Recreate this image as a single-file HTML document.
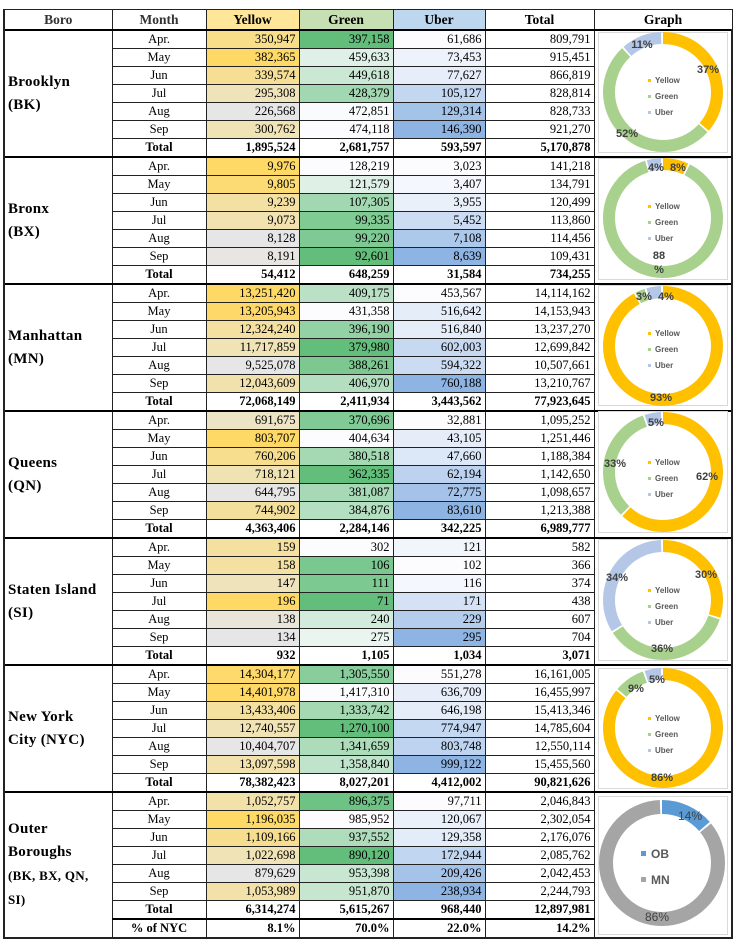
<!DOCTYPE html>
<html><head><meta charset="utf-8">
<style>
body{margin:0;width:736px;height:943px;background:#fff;position:relative;overflow:hidden;font-family:"Liberation Serif",serif;}
table{position:absolute;left:3px;top:9px;border-collapse:collapse;table-layout:fixed;width:728px;}
td,th{border:1px solid #222;padding:0 3px;font-size:12.5px;line-height:15px;height:17px;overflow:hidden;white-space:nowrap;}
th{font-size:13.5px;font-weight:bold;height:19px;text-align:center;}
td.n{text-align:right;}
td.mo{text-align:center;}
tr.t td{font-weight:bold;}
tbody{border-top:2px solid #000;}
td.b{font-weight:bold;font-size:15px;line-height:23px;vertical-align:middle;white-space:normal;border-left:2px solid #222;letter-spacing:0.3px;}
td.gr{border-right:2px solid #222;}
svg{position:absolute;left:0;top:0;}
</style></head><body>
<table>
<colgroup><col style="width:108px"><col style="width:94px"><col style="width:93px"><col style="width:94px"><col style="width:92px"><col style="width:109px"><col style="width:138px"></colgroup>
<thead><tr><th style="border-left:2px solid #222;color:#333">Boro</th><th style="color:#333">Month</th><th style="background:#ffe699">Yellow</th><th style="background:#c6e0b4">Green</th><th style="background:#bdd7ee">Uber</th><th>Total</th><th class="gr">Graph</th></tr></thead>
<tbody>
<tr class="m"><td class="b" rowspan="7">Brooklyn<br>(BK)</td><td class="mo">Apr.</td><td class="n y">350,947</td><td class="n g">397,158</td><td class="n u">61,686</td><td class="n">809,791</td><td class="gr" rowspan="7"></td></tr>
<tr class="m"><td class="mo">May</td><td class="n y">382,365</td><td class="n g">459,633</td><td class="n u">73,453</td><td class="n">915,451</td></tr>
<tr class="m"><td class="mo">Jun</td><td class="n y">339,574</td><td class="n g">449,618</td><td class="n u">77,627</td><td class="n">866,819</td></tr>
<tr class="m"><td class="mo">Jul</td><td class="n y">295,308</td><td class="n g">428,379</td><td class="n u">105,127</td><td class="n">828,814</td></tr>
<tr class="m"><td class="mo">Aug</td><td class="n y">226,568</td><td class="n g">472,851</td><td class="n u">129,314</td><td class="n">828,733</td></tr>
<tr class="m"><td class="mo">Sep</td><td class="n y">300,762</td><td class="n g">474,118</td><td class="n u">146,390</td><td class="n">921,270</td></tr>
<tr class="t"><td class="mo">Total</td><td class="n">1,895,524</td><td class="n">2,681,757</td><td class="n">593,597</td><td class="n">5,170,878</td></tr>
</tbody>
<tbody>
<tr class="m"><td class="b" rowspan="7">Bronx<br>(BX)</td><td class="mo">Apr.</td><td class="n y">9,976</td><td class="n g">128,219</td><td class="n u">3,023</td><td class="n">141,218</td><td class="gr" rowspan="7"></td></tr>
<tr class="m"><td class="mo">May</td><td class="n y">9,805</td><td class="n g">121,579</td><td class="n u">3,407</td><td class="n">134,791</td></tr>
<tr class="m"><td class="mo">Jun</td><td class="n y">9,239</td><td class="n g">107,305</td><td class="n u">3,955</td><td class="n">120,499</td></tr>
<tr class="m"><td class="mo">Jul</td><td class="n y">9,073</td><td class="n g">99,335</td><td class="n u">5,452</td><td class="n">113,860</td></tr>
<tr class="m"><td class="mo">Aug</td><td class="n y">8,128</td><td class="n g">99,220</td><td class="n u">7,108</td><td class="n">114,456</td></tr>
<tr class="m"><td class="mo">Sep</td><td class="n y">8,191</td><td class="n g">92,601</td><td class="n u">8,639</td><td class="n">109,431</td></tr>
<tr class="t"><td class="mo">Total</td><td class="n">54,412</td><td class="n">648,259</td><td class="n">31,584</td><td class="n">734,255</td></tr>
</tbody>
<tbody>
<tr class="m"><td class="b" rowspan="7">Manhattan<br>(MN)</td><td class="mo">Apr.</td><td class="n y">13,251,420</td><td class="n g">409,175</td><td class="n u">453,567</td><td class="n">14,114,162</td><td class="gr" rowspan="7"></td></tr>
<tr class="m"><td class="mo">May</td><td class="n y">13,205,943</td><td class="n g">431,358</td><td class="n u">516,642</td><td class="n">14,153,943</td></tr>
<tr class="m"><td class="mo">Jun</td><td class="n y">12,324,240</td><td class="n g">396,190</td><td class="n u">516,840</td><td class="n">13,237,270</td></tr>
<tr class="m"><td class="mo">Jul</td><td class="n y">11,717,859</td><td class="n g">379,980</td><td class="n u">602,003</td><td class="n">12,699,842</td></tr>
<tr class="m"><td class="mo">Aug</td><td class="n y">9,525,078</td><td class="n g">388,261</td><td class="n u">594,322</td><td class="n">10,507,661</td></tr>
<tr class="m"><td class="mo">Sep</td><td class="n y">12,043,609</td><td class="n g">406,970</td><td class="n u">760,188</td><td class="n">13,210,767</td></tr>
<tr class="t"><td class="mo">Total</td><td class="n">72,068,149</td><td class="n">2,411,934</td><td class="n">3,443,562</td><td class="n">77,923,645</td></tr>
</tbody>
<tbody>
<tr class="m"><td class="b" rowspan="7">Queens<br>(QN)</td><td class="mo">Apr.</td><td class="n y">691,675</td><td class="n g">370,696</td><td class="n u">32,881</td><td class="n">1,095,252</td><td class="gr" rowspan="7"></td></tr>
<tr class="m"><td class="mo">May</td><td class="n y">803,707</td><td class="n g">404,634</td><td class="n u">43,105</td><td class="n">1,251,446</td></tr>
<tr class="m"><td class="mo">Jun</td><td class="n y">760,206</td><td class="n g">380,518</td><td class="n u">47,660</td><td class="n">1,188,384</td></tr>
<tr class="m"><td class="mo">Jul</td><td class="n y">718,121</td><td class="n g">362,335</td><td class="n u">62,194</td><td class="n">1,142,650</td></tr>
<tr class="m"><td class="mo">Aug</td><td class="n y">644,795</td><td class="n g">381,087</td><td class="n u">72,775</td><td class="n">1,098,657</td></tr>
<tr class="m"><td class="mo">Sep</td><td class="n y">744,902</td><td class="n g">384,876</td><td class="n u">83,610</td><td class="n">1,213,388</td></tr>
<tr class="t"><td class="mo">Total</td><td class="n">4,363,406</td><td class="n">2,284,146</td><td class="n">342,225</td><td class="n">6,989,777</td></tr>
</tbody>
<tbody>
<tr class="m"><td class="b" rowspan="7">Staten Island<br>(SI)</td><td class="mo">Apr.</td><td class="n y">159</td><td class="n g">302</td><td class="n u">121</td><td class="n">582</td><td class="gr" rowspan="7"></td></tr>
<tr class="m"><td class="mo">May</td><td class="n y">158</td><td class="n g">106</td><td class="n u">102</td><td class="n">366</td></tr>
<tr class="m"><td class="mo">Jun</td><td class="n y">147</td><td class="n g">111</td><td class="n u">116</td><td class="n">374</td></tr>
<tr class="m"><td class="mo">Jul</td><td class="n y">196</td><td class="n g">71</td><td class="n u">171</td><td class="n">438</td></tr>
<tr class="m"><td class="mo">Aug</td><td class="n y">138</td><td class="n g">240</td><td class="n u">229</td><td class="n">607</td></tr>
<tr class="m"><td class="mo">Sep</td><td class="n y">134</td><td class="n g">275</td><td class="n u">295</td><td class="n">704</td></tr>
<tr class="t"><td class="mo">Total</td><td class="n">932</td><td class="n">1,105</td><td class="n">1,034</td><td class="n">3,071</td></tr>
</tbody>
<tbody>
<tr class="m"><td class="b" rowspan="7">New York<br>City (NYC)</td><td class="mo">Apr.</td><td class="n y">14,304,177</td><td class="n g">1,305,550</td><td class="n u">551,278</td><td class="n">16,161,005</td><td class="gr" rowspan="7"></td></tr>
<tr class="m"><td class="mo">May</td><td class="n y">14,401,978</td><td class="n g">1,417,310</td><td class="n u">636,709</td><td class="n">16,455,997</td></tr>
<tr class="m"><td class="mo">Jun</td><td class="n y">13,433,406</td><td class="n g">1,333,742</td><td class="n u">646,198</td><td class="n">15,413,346</td></tr>
<tr class="m"><td class="mo">Jul</td><td class="n y">12,740,557</td><td class="n g">1,270,100</td><td class="n u">774,947</td><td class="n">14,785,604</td></tr>
<tr class="m"><td class="mo">Aug</td><td class="n y">10,404,707</td><td class="n g">1,341,659</td><td class="n u">803,748</td><td class="n">12,550,114</td></tr>
<tr class="m"><td class="mo">Sep</td><td class="n y">13,097,598</td><td class="n g">1,358,840</td><td class="n u">999,122</td><td class="n">15,455,560</td></tr>
<tr class="t"><td class="mo">Total</td><td class="n">78,382,423</td><td class="n">8,027,201</td><td class="n">4,412,002</td><td class="n">90,821,626</td></tr>
</tbody>
<tbody>
<tr class="m"><td class="b" rowspan="8">Outer<br>Boroughs<br><span style="font-size:13px">(BK, BX, QN, SI)</span></td><td class="mo">Apr.</td><td class="n y">1,052,757</td><td class="n g">896,375</td><td class="n u">97,711</td><td class="n">2,046,843</td><td class="gr" rowspan="8"></td></tr>
<tr class="m"><td class="mo">May</td><td class="n y">1,196,035</td><td class="n g">985,952</td><td class="n u">120,067</td><td class="n">2,302,054</td></tr>
<tr class="m"><td class="mo">Jun</td><td class="n y">1,109,166</td><td class="n g">937,552</td><td class="n u">129,358</td><td class="n">2,176,076</td></tr>
<tr class="m"><td class="mo">Jul</td><td class="n y">1,022,698</td><td class="n g">890,120</td><td class="n u">172,944</td><td class="n">2,085,762</td></tr>
<tr class="m"><td class="mo">Aug</td><td class="n y">879,629</td><td class="n g">953,398</td><td class="n u">209,426</td><td class="n">2,042,453</td></tr>
<tr class="m"><td class="mo">Sep</td><td class="n y">1,053,989</td><td class="n g">951,870</td><td class="n u">238,934</td><td class="n">2,244,793</td></tr>
<tr class="t"><td class="mo">Total</td><td class="n">6,314,274</td><td class="n">5,615,267</td><td class="n">968,440</td><td class="n">12,897,981</td></tr>
<tr class="t" style="border-top:2px solid #000;border-bottom:2px solid #222"><td class="mo">% of NYC</td><td class="n">8.1%</td><td class="n">70.0%</td><td class="n">22.0%</td><td class="n">14.2%</td></tr>
</tbody>
</table>

<svg width="736" height="943" font-family="Liberation Sans, sans-serif">
<g fill="none" stroke="#d9d9d9" stroke-width="1">
<rect x="598.5" y="32.5" width="129" height="120"/>
<rect x="598.5" y="158.5" width="129" height="121"/>
<rect x="598.5" y="285.5" width="129" height="120"/>
<rect x="598.5" y="411.5" width="129" height="121"/>
<rect x="598.5" y="539.5" width="129" height="121"/>
<rect x="598.5" y="668.5" width="129" height="120"/>
<rect x="598.5" y="796.5" width="129" height="138"/>
</g>
<g fill="none" stroke-width="12">
<g transform="rotate(-90 663 92)">
<circle cx="663" cy="92" r="54" pathLength="100" stroke="#ffc000" stroke-dasharray="36.2 200" stroke-dashoffset="0"/>
<circle cx="663" cy="92" r="54" pathLength="100" stroke="#a9d18e" stroke-dasharray="51.4 200" stroke-dashoffset="-36.7"/>
<circle cx="663" cy="92" r="54" pathLength="100" stroke="#b4c7e7" stroke-dasharray="10.9 200" stroke-dashoffset="-88.6"/>
</g>
<g transform="rotate(-90 663 218)">
<circle cx="663" cy="218" r="54" pathLength="100" stroke="#ffc000" stroke-dasharray="6.9 200" stroke-dashoffset="0"/>
<circle cx="663" cy="218" r="54" pathLength="100" stroke="#a9d18e" stroke-dasharray="87.8 200" stroke-dashoffset="-7.4"/>
<circle cx="663" cy="218" r="54" pathLength="100" stroke="#b4c7e7" stroke-dasharray="3.8 200" stroke-dashoffset="-95.7"/>
</g>
<g transform="rotate(-90 663 346)">
<circle cx="663" cy="346" r="54" pathLength="100" stroke="#ffc000" stroke-dasharray="92 200" stroke-dashoffset="0"/>
<circle cx="663" cy="346" r="54" pathLength="100" stroke="#a9d18e" stroke-dasharray="2.6 200" stroke-dashoffset="-92.5"/>
<circle cx="663" cy="346" r="54" pathLength="100" stroke="#b4c7e7" stroke-dasharray="3.9 200" stroke-dashoffset="-95.6"/>
</g>
<g transform="rotate(-90 663 472)">
<circle cx="663" cy="472" r="54" pathLength="100" stroke="#ffc000" stroke-dasharray="61.9 200" stroke-dashoffset="0"/>
<circle cx="663" cy="472" r="54" pathLength="100" stroke="#a9d18e" stroke-dasharray="32.2 200" stroke-dashoffset="-62.4"/>
<circle cx="663" cy="472" r="54" pathLength="100" stroke="#b4c7e7" stroke-dasharray="4.4 200" stroke-dashoffset="-95.1"/>
</g>
<g transform="rotate(-90 663 600)">
<circle cx="663" cy="600" r="54" pathLength="100" stroke="#ffc000" stroke-dasharray="29.8 200" stroke-dashoffset="0"/>
<circle cx="663" cy="600" r="54" pathLength="100" stroke="#a9d18e" stroke-dasharray="35.5 200" stroke-dashoffset="-30.3"/>
<circle cx="663" cy="600" r="54" pathLength="100" stroke="#b4c7e7" stroke-dasharray="33.2 200" stroke-dashoffset="-66.3"/>
</g>
<g transform="rotate(-90 663 728)">
<circle cx="663" cy="728" r="54" pathLength="100" stroke="#ffc000" stroke-dasharray="85.8 200" stroke-dashoffset="0"/>
<circle cx="663" cy="728" r="54" pathLength="100" stroke="#a9d18e" stroke-dasharray="8.3 200" stroke-dashoffset="-86.3"/>
<circle cx="663" cy="728" r="54" pathLength="100" stroke="#b4c7e7" stroke-dasharray="4.4 200" stroke-dashoffset="-95.1"/>
</g>
<g transform="rotate(-90 662 863)" stroke-width="14">
<circle cx="662" cy="863" r="56" pathLength="100" stroke="#5b9bd5" stroke-dasharray="13.7 200" stroke-dashoffset="0"/>
<circle cx="662" cy="863" r="56" pathLength="100" stroke="#a5a5a5" stroke-dasharray="85.3 200" stroke-dashoffset="-14.2"/>
</g>
</g>
<g font-size="8" fill="#595959" font-weight="bold">
<g><rect x="648" y="79" width="3" height="3" fill="#ffc000"/><text x="655" y="83">Yellow</text><rect x="648" y="95" width="3" height="3" fill="#a9d18e"/><text x="655" y="99">Green</text><rect x="648" y="111" width="3" height="3" fill="#b4c7e7"/><text x="655" y="115">Uber</text></g>
<g transform="translate(0,126)"><rect x="648" y="79" width="3" height="3" fill="#ffc000"/><text x="655" y="83">Yellow</text><rect x="648" y="95" width="3" height="3" fill="#a9d18e"/><text x="655" y="99">Green</text><rect x="648" y="111" width="3" height="3" fill="#b4c7e7"/><text x="655" y="115">Uber</text></g>
<g transform="translate(0,253)"><rect x="648" y="79" width="3" height="3" fill="#ffc000"/><text x="655" y="83">Yellow</text><rect x="648" y="95" width="3" height="3" fill="#a9d18e"/><text x="655" y="99">Green</text><rect x="648" y="111" width="3" height="3" fill="#b4c7e7"/><text x="655" y="115">Uber</text></g>
<g transform="translate(0,382)"><rect x="648" y="79" width="3" height="3" fill="#ffc000"/><text x="655" y="83">Yellow</text><rect x="648" y="95" width="3" height="3" fill="#a9d18e"/><text x="655" y="99">Green</text><rect x="648" y="111" width="3" height="3" fill="#b4c7e7"/><text x="655" y="115">Uber</text></g>
<g transform="translate(0,510)"><rect x="648" y="79" width="3" height="3" fill="#ffc000"/><text x="655" y="83">Yellow</text><rect x="648" y="95" width="3" height="3" fill="#a9d18e"/><text x="655" y="99">Green</text><rect x="648" y="111" width="3" height="3" fill="#b4c7e7"/><text x="655" y="115">Uber</text></g>
<g transform="translate(0,638)"><rect x="648" y="79" width="3" height="3" fill="#ffc000"/><text x="655" y="83">Yellow</text><rect x="648" y="95" width="3" height="3" fill="#a9d18e"/><text x="655" y="99">Green</text><rect x="648" y="111" width="3" height="3" fill="#b4c7e7"/><text x="655" y="115">Uber</text></g>
</g>
<g font-size="12" fill="#595959" font-weight="bold">
<rect x="641" y="851" width="5" height="5" fill="#5b9bd5"/><text x="651" y="858">OB</text>
<rect x="641" y="877" width="5" height="5" fill="#a5a5a5"/><text x="651" y="884">MN</text>
</g>
<g font-size="11" fill="#404040" font-weight="bold" text-anchor="middle">
<text x="642" y="48">11%</text><text x="708" y="73">37%</text><text x="627" y="137">52%</text>
<text x="656" y="171">4%</text><text x="678" y="171">8%</text><text x="659" y="259">88</text><text x="659" y="273">%</text>
<text x="644" y="300">3%</text><text x="666" y="300">4%</text><text x="661" y="401">93%</text>
<text x="656" y="426">5%</text><text x="615" y="467">33%</text><text x="707" y="480">62%</text>
<text x="617" y="581">34%</text><text x="706" y="578">30%</text><text x="662" y="652">36%</text>
<text x="657" y="683">5%</text><text x="636" y="692">9%</text><text x="662" y="781">86%</text>
</g>
<g font-size="12" fill="#404040" text-anchor="middle">
<text x="690" y="820">14%</text><text x="657" y="921">86%</text>
</g>
</svg>
<script>
function mix(a,b,t){return 'rgb('+a.map(function(v,i){return Math.round(v+(b[i]-v)*t)}).join(',')+')';}
var GRAY=[231,230,230],PALE=[242,226,170],GOLD=[255,217,102],WH=[252,252,255],GR=[99,190,123],BL=[142,180,227];
document.querySelectorAll('tbody').forEach(function(tb){
 ['y','g','u'].forEach(function(c){
  var cells=[].slice.call(tb.querySelectorAll('td.'+c));
  var vals=cells.map(function(td){return parseFloat(td.textContent.replace(/,/g,''))});
  var mn=Math.min.apply(null,vals),mx=Math.max.apply(null,vals);
  var s=vals.slice().sort(function(a,b){return a-b}),md=(s[2]+s[3])/2;
  cells.forEach(function(td,i){var v=vals[i],t=(v-mn)/((mx-mn)||1),col;
   if(c=='y'){col=v<=md?mix(GRAY,PALE,(v-mn)/((md-mn)||1)):mix(PALE,GOLD,(v-md)/((mx-md)||1));}
   else if(c=='g'){col=mix(GR,WH,t);}else{col=mix(WH,BL,t);}
   td.style.background=col;});
 });
});
</script>
</body></html>
